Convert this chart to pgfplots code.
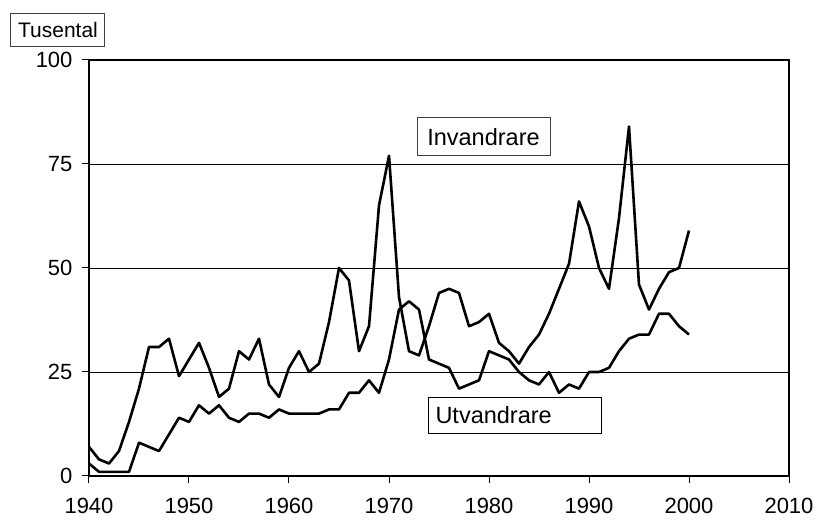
\documentclass[border=0pt]{standalone}
\usepackage{pgfplots}
\pgfplotsset{compat=1.18}
\usepackage{fontspec}
\setmainfont{Liberation Sans}
\begin{document}
\begin{tikzpicture}
\begin{axis}[
  name=ax,
  scale only axis,
  width=700pt, height=416pt,
  xmin=1940, xmax=2010, ymin=0, ymax=100,
  xtick={1940,1950,...,2010},
  ytick={0,25,50,75,100},
  xticklabel style={/pgf/number format/1000 sep={}, yshift=-12pt},
  yticklabel style={xshift=-6pt},
  /pgf/number format/assume math mode=true,
  tick label style={font=\fontsize{22}{26}\selectfont},
  tick align=outside,
  major tick length=7pt,
  xtick pos=bottom, ytick pos=left,
  ymajorgrids,
  grid style={black, line width=0.9pt},
  axis line style={line width=1.2pt},
  every tick/.style={black, line width=1pt},
  clip=false,
]
\addplot[black, line width=2.6pt, line join=round] coordinates {
(1940,7)(1941,4)(1942,3)(1943,6)(1944,13)(1945,21)(1946,31)(1947,31)(1948,33)(1949,24)
(1950,28)(1951,32)(1952,26)(1953,19)(1954,21)(1955,30)(1956,28)(1957,33)(1958,22)(1959,19)
(1960,26)(1961,30)(1962,25)(1963,27)(1964,37)(1965,50)(1966,47)(1967,30)(1968,36)(1969,65)
(1970,77)(1971,43)(1972,30)(1973,29)(1974,36)(1975,44)(1976,45)(1977,44)(1978,36)(1979,37)
(1980,39)(1981,32)(1982,30)(1983,27)(1984,31)(1985,34)(1986,39)(1987,45)(1988,51)(1989,66)
(1990,60)(1991,50)(1992,45)(1993,62)(1994,84)(1995,46)(1996,40)(1997,45)(1998,49)(1999,50)
(2000,59)};
\addplot[black, line width=2.6pt, line join=round] coordinates {
(1940,3)(1941,1)(1942,1)(1943,1)(1944,1)(1945,8)(1946,7)(1947,6)(1948,10)(1949,14)
(1950,13)(1951,17)(1952,15)(1953,17)(1954,14)(1955,13)(1956,15)(1957,15)(1958,14)(1959,16)
(1960,15)(1961,15)(1962,15)(1963,15)(1964,16)(1965,16)(1966,20)(1967,20)(1968,23)(1969,20)
(1970,28)(1971,40)(1972,42)(1973,40)(1974,28)(1975,27)(1976,26)(1977,21)(1978,22)(1979,23)
(1980,30)(1981,29)(1982,28)(1983,25)(1984,23)(1985,22)(1986,25)(1987,20)(1988,22)(1989,21)
(1990,25)(1991,25)(1992,26)(1993,30)(1994,33)(1995,34)(1996,34)(1997,39)(1998,39)(1999,36)
(2000,34)};
\node[draw=black!75, line width=1pt, fill=white, font=\fontsize{23.5}{28}\selectfont,
  minimum width=133pt, minimum height=38pt, inner sep=0pt] at (axis cs:1979.45,81.5) {Invandrare};
\node[draw=black, line width=1pt, fill=white, font=\fontsize{23.5}{28}\selectfont,
  anchor=west, text width=159pt, align=left, inner xsep=7pt, minimum height=36pt, inner ysep=0pt]
  at (axis cs:1973.9,14.6) {Utvandrare};
\node[draw=black!75, line width=1pt, fill=white, font=\fontsize{21}{25}\selectfont,
  minimum width=94pt, minimum height=33pt, inner sep=0pt] at (axis cs:1936.9,107.3) {Tusental};
\end{axis}
\path ([shift={(-89pt,-50pt)}]ax.south west) rectangle ([shift={(31pt,60pt)}]ax.north east);
\end{tikzpicture}
\end{document}
